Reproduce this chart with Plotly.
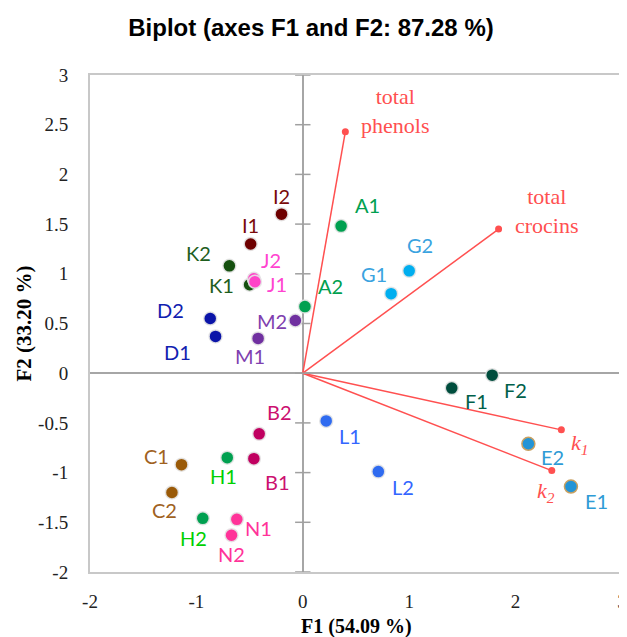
import plotly.graph_objects as go

# ---- data ----
obs_names = ["I2", "I1", "K2", "K1", "J2", "J1", "A1", "A2", "M2", "M1", "D2", "D1",
             "G1", "G2", "F1", "F2", "E2", "E1", "L1", "L2", "B2", "B1", "H1", "C1",
             "C2", "H2", "N1", "N2"]
obs_f1 = [-0.20, -0.49, -0.69, -0.50, -0.46, -0.45, 0.36, 0.02, -0.07, -0.42, -0.87, -0.82,
          0.83, 1.00, 1.40, 1.78, 2.12, 2.52, 0.22, 0.71, -0.41, -0.46, -0.71, -1.14,
          -1.23, -0.94, -0.62, -0.67]
obs_f2 = [1.60, 1.30, 1.08, 0.89, 0.95, 0.92, 1.48, 0.67, 0.53, 0.35, 0.55, 0.37,
          0.80, 1.03, -0.15, -0.02, -0.71, -1.14, -0.48, -0.99, -0.61, -0.86, -0.85, -0.92,
          -1.20, -1.46, -1.47, -1.63]

var_names = ["total<br>phenols", "total<br>crocins", "<i>k</i><sub><i>1</i></sub>", "<i>k</i><sub><i>2</i></sub>"]
var_f1 = [0.40, 1.84, 2.43, 2.34]
var_f2 = [2.43, 1.45, -0.57, -0.98]

x_ticks = [-2, -1, 0, 1, 2, 3]
y_ticks = [-2, -1.5, -1, -0.5, 0, 0.5, 1, 1.5, 2, 2.5, 3]

x_title = "<b>F1 (54.09 %)</b>"
y_title = "<b>F2 (33.20 %)</b>"
chart_title = "<b>Biplot (axes F1 and F2: 87.28 %)</b>"

# ---- styles ----
marker_col = {"A": "#00A050", "B": "#C00060", "C": "#9A5A08", "D": "#0A14A8", "E": "#2394D6",
              "F": "#004D3D", "G": "#00AEEF", "H": "#00A050", "I": "#6E0000", "J": "#FF44C8",
              "K": "#15500F", "L": "#2F6BF0", "M": "#7030A0", "N": "#FF3399"}
label_col = {"A": "#00A050", "B": "#CC1070", "C": "#A0621E", "D": "#1020B0", "E": "#2E9BD6",
             "F": "#00604A", "G": "#3AA3E0", "H": "#00D000", "I": "#7A0A0A", "J": "#FF44D0",
             "K": "#1E5E1E", "L": "#3366FF", "M": "#7F3FAF", "N": "#FF3399"}
label_shift = {"I2": (0, 18), "I1": (0, 19), "K2": (-31, 13), "K1": (-28, 0), "J2": (17, 19),
               "J1": (22, -2), "A1": (26, 21), "A2": (26, 21), "M2": (-23, 0), "M1": (-8, -18),
               "D2": (-40, 9), "D1": (-38, -16), "G1": (-17, 20), "G2": (11, 26), "F1": (25, -13),
               "F2": (23, -15), "E2": (24, -13), "E1": (26, -14), "L1": (24, -15), "L2": (25, -15),
               "B2": (20, 22), "B1": (24, -23), "H1": (-4, -18), "C1": (-25, 9), "C2": (-7, -18),
               "H2": (-9, -20), "N1": (22, -9), "N2": (0, -19)}
var_shift = [(50, 21), (48, 18), (18, -14), (-6, -21)]
vec_col = "#FF5050"
serif = "Liberation Serif, serif"

fig = go.Figure()

# vectors
for vx, vy in zip(var_f1, var_f2):
    fig.add_trace(go.Scatter(x=[0, vx], y=[0, vy], mode="lines", line=dict(color=vec_col, width=1.5),
                             hoverinfo="skip", showlegend=False))
fig.add_trace(go.Scatter(x=var_f1, y=var_f2, mode="markers", marker=dict(color=vec_col, size=7),
                         showlegend=False))

# tick marks on the vertical zero line
fig.add_trace(go.Scatter(x=[0] * len(y_ticks), y=y_ticks, mode="markers",
                         marker=dict(symbol="line-ew", size=11, line=dict(color="#A0A0A0", width=1.5)),
                         hoverinfo="skip", showlegend=False, cliponaxis=False))

# observations grouped by letter
groups = []
for n in obs_names:
    if n[0] not in groups:
        groups.append(n[0])
for g in groups:
    idx = [i for i, n in enumerate(obs_names) if n[0] == g]
    edge = "#C8A060" if g == "E" else "rgba(230,230,230,0.9)"
    fig.add_trace(go.Scatter(x=[obs_f1[i] for i in idx], y=[obs_f2[i] for i in idx], mode="markers",
                             marker=dict(color=marker_col[g], size=13, line=dict(color=edge, width=1.5)),
                             text=[obs_names[i] for i in idx], showlegend=False))

anns = []
for n, x, y in zip(obs_names, obs_f1, obs_f2):
    dx, dy = label_shift[n]
    anns.append(dict(x=x, y=y, text=n, showarrow=False, xshift=dx, yshift=dy,
                     font=dict(family="Lato, Carlito, sans-serif", size=20, color=label_col[n[0]])))
for t, x, y, (dx, dy) in zip(var_names, var_f1, var_f2, var_shift):
    anns.append(dict(x=x, y=y, text=t, showarrow=False, xshift=dx, yshift=dy,
                     font=dict(family=serif, size=22, color=vec_col)))
# axis titles
anns.append(dict(xref="paper", yref="paper", x=0.5, y=-54 / 497, text=x_title, showarrow=False,
                 xanchor="center", yanchor="middle", font=dict(family=serif, size=20, color="black")))
anns.append(dict(xref="paper", yref="paper", x=-67 / 532, y=0.5, text=y_title, showarrow=False,
                 textangle=-90, xanchor="center", yanchor="middle",
                 font=dict(family=serif, size=21, color="black")))

# page body adds an 8px offset, so the figure is sized to fit the window
fig.update_layout(
    width=619, height=629,
    margin=dict(l=82, r=5, t=67, b=65, autoexpand=False),
    paper_bgcolor="white", plot_bgcolor="white",
    title=dict(text=chart_title, x=(311 - 8) / 619, xanchor="center",
               y=1 - 20 / 629, yanchor="middle",
               font=dict(family="Liberation Sans, Arial, sans-serif", size=24, color="black")),
    annotations=anns,
    showlegend=False,
)
fig.update_xaxes(range=[-2, 3], tickvals=x_ticks, ticktext=[str(v) for v in x_ticks],
                 showgrid=False, zeroline=True, zerolinecolor="#A6A6A6", zerolinewidth=1.5,
                 showline=True, linecolor="#C8C8C8", linewidth=2, mirror=True, ticks="",
                 ticklabelstandoff=11, automargin=False,
                 tickfont=dict(family=serif, size=19, color="#222"))
fig.update_yaxes(range=[-2, 3], tickvals=y_ticks, ticktext=[("%g" % v) for v in y_ticks],
                 showgrid=False, zeroline=True, zerolinecolor="#A6A6A6", zerolinewidth=1.5,
                 showline=True, linecolor="#C8C8C8", linewidth=2, mirror=True, ticks="",
                 ticklabelstandoff=16, automargin=False,
                 tickfont=dict(family=serif, size=19, color="#222"))

fig.write_html("out.html")
